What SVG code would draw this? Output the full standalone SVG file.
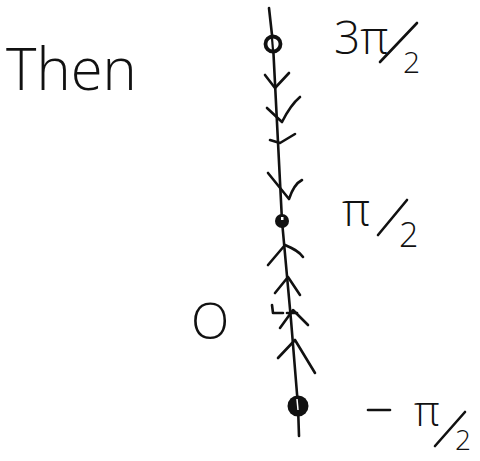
<svg xmlns="http://www.w3.org/2000/svg" width="480" height="461" viewBox="0 0 480 461">
<style>
.ink{fill:none;stroke:#111;stroke-width:2.6;stroke-linecap:round;stroke-linejoin:round}
.lbl{font-family:"Open Sans","Liberation Sans",sans-serif;font-weight:300;fill:#111}
</style>
<rect width="480" height="461" fill="#fff"/>
<g id="connectors">
  <path class="ink" d="M269,8 L273,44 L282,221 L291,320 L298,406 L299,436"/>
  <!-- downward chevrons -->
  <path class="ink" d="M265,75 L275,88 L289,73"/>
  <path class="ink" d="M267,108 L282,122 C288,110 294,102 300,97"/>
  <path class="ink" d="M270,140 L280,143 L295,134"/>
  <path class="ink" d="M268,173 L289,199 C292,190 296,183 302,180"/>
  <!-- upward chevrons -->
  <path class="ink" d="M268,265 L285,245 C292,248 299,251 303,257"/>
  <path class="ink" d="M275,293 L288,277 L300,295"/>
  <path class="ink" d="M272,305 L273,313 L283,313"/>
  <path class="ink" d="M287,313 L297,313"/>
  <path class="ink" d="M280,328 L293,310 L308,325"/>
  <path class="ink" d="M278,358 L295,340 L315,373"/>
</g>
<g id="eq-3pi2">
  <circle cx="273" cy="44" r="7.5" fill="#fff" stroke="#111" stroke-width="3.8"/>
  <line x1="272" y1="38" x2="273" y2="50" stroke="#111" stroke-width="2.2"/>
  <text class="lbl" x="334" y="54" font-size="46">3π</text>
  <line class="ink" x1="380" y1="62" x2="417" y2="23"/>
  <text class="lbl" x="403" y="73" font-size="30">2</text>
</g>
<g id="eq-pi2">
  <circle cx="282" cy="221" r="7" fill="#111"/>
  <rect x="281" y="217" width="2.5" height="3" fill="#fff"/>
  <text class="lbl" x="342" y="226" font-size="46">π</text>
  <line class="ink" x1="378" y1="235" x2="407" y2="200"/>
  <text class="lbl" x="399" y="247" font-size="34">2</text>
</g>
<g id="eq-minus-pi2">
  <circle cx="298" cy="406" r="10.5" fill="#111"/>
  <line x1="297" y1="399" x2="298" y2="410" stroke="#fff" stroke-width="1.5"/>
  <line class="ink" x1="368" y1="410" x2="390" y2="410"/>
  <text class="lbl" x="414" y="426" font-size="42">π</text>
  <line class="ink" x1="435" y1="446" x2="465" y2="412"/>
  <text class="lbl" x="455" y="450" font-size="28">2</text>
</g>
<g id="zero">
  <text class="lbl" x="191" y="339" font-size="50">O</text>
</g>
<g id="then">
  <text class="lbl" x="6" y="90" font-size="58">Then</text>
</g>
</svg>
